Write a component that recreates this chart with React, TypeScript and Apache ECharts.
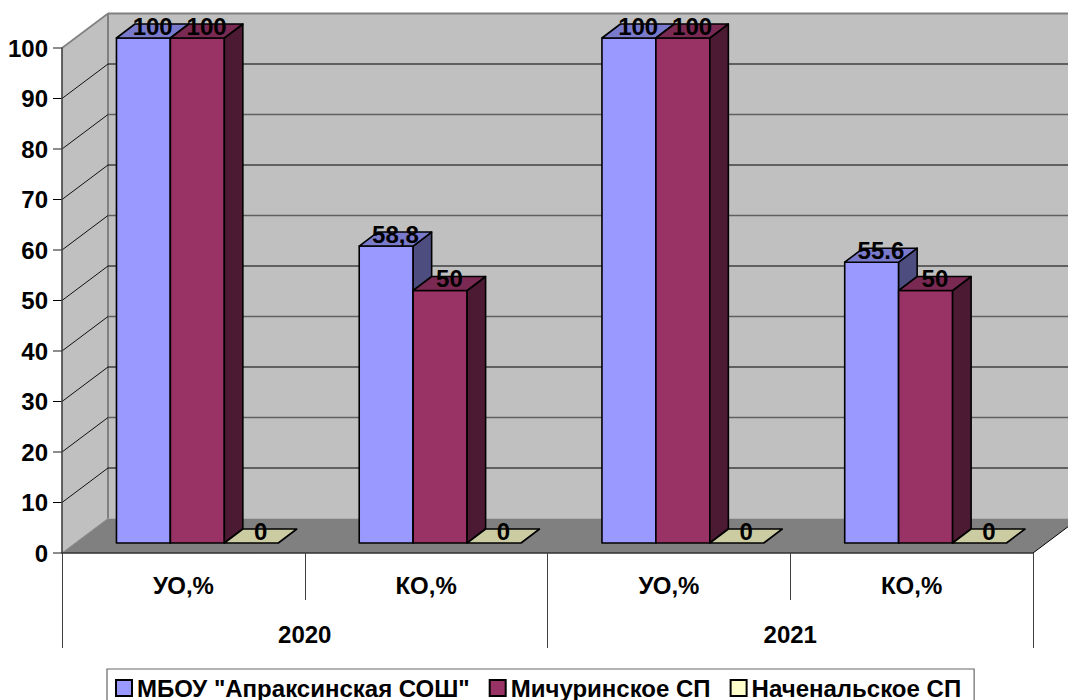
import React, { useEffect, useRef } from "react";
import * as echarts from "echarts";

const categories = ["УО,%", "КО,%", "УО,%", "КО,%"];
const years = ["2020", "2021"];
const seriesNames = ['МБОУ "Апраксинская СОШ"', "Мичуринское СП", "Наченальское СП"];
const school = [100, 58.8, 100, 55.6];
const michurinsk = [100, 50, 100, 50];
const primary = [0, 0, 0, 0];
const schoolLabels = ["100", "58,8", "100", "55.6"];
const michurinskLabels = ["100", "50", "100", "50"];
const primaryLabels = ["0", "0", "0", "0"];
const yTicks = [0, 10, 20, 30, 40, 50, 60, 70, 80, 90, 100];

const FONT = '"Liberation Sans", Arial, sans-serif';
const FONT_SIZE = 24;
const WALL_DX = 46;
const WALL_DY = -34.5;
const BAR_DX = 18.5;
const BAR_DY = -14;
const SHIFT_X = 14;
const SHIFT_Y = -10;

const palettes = [
  { front: "#9999FF", top: "#7A7ACC", side: "#4D4D80" },
  { front: "#993366", top: "#7A2952", side: "#4D1A33" },
  { front: "#FFFFCC", top: "#CCCCA3", side: "#808066" },
];

const wallRender = (_p: any, api: any) => {
  const tick = api.value(1);
  const catWidth = api.size([1, 0])[0];
  const [c0, fy] = api.coord([0, tick]);
  const [c3] = api.coord([3, tick]);
  const fx = c0 - catWidth / 2;
  const rx = c3 + catWidth / 2;
  const [, y100] = api.coord([0, 100]);
  const [, y0] = api.coord([0, 0]);
  const bx = fx + WALL_DX;
  const by = fy + WALL_DY;
  const even = tick % 20 === 0;
  const lineColor = even ? "#606060" : "#000000";
  const lineWidth = even ? 1.6 : 1;
  const children: any[] = [];
  if (tick === 0) {
    children.push(
      { type: "polygon", shape: { points: [[fx, y100], [bx, y100 + WALL_DY], [bx, y0 + WALL_DY], [fx, y0]] }, style: { fill: "#C0C0C0" } },
      { type: "rect", shape: { x: bx, y: y100 + WALL_DY, width: rx - fx, height: y0 - y100 }, style: { fill: "#C0C0C0" } },
      { type: "polygon", shape: { points: [[fx, y0], [bx, y0 + WALL_DY], [rx + WALL_DX, y0 + WALL_DY], [rx, y0]] }, style: { fill: "#808080" } },
      { type: "line", shape: { x1: bx, y1: y100 + WALL_DY, x2: bx, y2: y0 + WALL_DY }, style: { stroke: "#808080", lineWidth: 2 } },
      { type: "line", shape: { x1: fx, y1: y100, x2: bx, y2: y100 + WALL_DY }, style: { stroke: "#808080", lineWidth: 1.6 } },
      { type: "line", shape: { x1: fx, y1: y0, x2: bx, y2: y0 + WALL_DY }, style: { stroke: "#8A8A8A", lineWidth: 1 } },
      { type: "line", shape: { x1: rx, y1: y0, x2: rx + WALL_DX, y2: y0 + WALL_DY }, style: { stroke: "#000000", lineWidth: 1 } },
    );
  } else if (tick === 100) {
    children.push({ type: "line", shape: { x1: bx, y1: by, x2: rx + WALL_DX, y2: by }, style: { stroke: "#808080", lineWidth: 2 } });
  } else {
    children.push(
      { type: "line", shape: { x1: fx, y1: fy, x2: bx, y2: by }, style: { stroke: "#111111", lineWidth: 1 } },
      { type: "line", shape: { x1: bx, y1: by, x2: rx + WALL_DX, y2: by }, style: { stroke: lineColor, lineWidth } },
    );
  }
  children.push({ type: "line", shape: { x1: fx - 9, y1: fy, x2: fx, y2: fy }, style: { stroke: even ? "#707070" : "#000000", lineWidth: even ? 1.6 : 1 } });
  return { type: "group", children };
};

const barRender = (seriesIndex: number, labels: string[]) => (_p: any, api: any) => {
  const cat = api.value(0);
  const val = api.value(1);
  const pal = palettes[seriesIndex];
  const catWidth = api.size([1, 0])[0];
  const w = catWidth / 4.5;
  const [cx, yTop0] = api.coord([cat, val]);
  const [, yBase0] = api.coord([cat, 0]);
  const x0 = cx + SHIFT_X + (seriesIndex - 1.5) * w;
  const x1 = x0 + w;
  const yt = yTop0 + SHIFT_Y;
  const yb = yBase0 + SHIFT_Y;
  const stroke = { stroke: "#000000", lineWidth: 1.6, lineJoin: "round" };
  const children: any[] = [];
  if (val > 0) {
    children.push(
      { type: "rect", shape: { x: x0, y: yt, width: w, height: yb - yt }, style: { fill: pal.front, ...stroke } },
      { type: "polygon", shape: { points: [[x1, yt], [x1 + BAR_DX, yt + BAR_DY], [x1 + BAR_DX, yb + BAR_DY], [x1, yb]] }, style: { fill: pal.side, ...stroke } },
    );
  }
  children.push({ type: "polygon", shape: { points: [[x0, yt], [x0 + BAR_DX, yt + BAR_DY], [x1 + BAR_DX, yt + BAR_DY], [x1, yt]] }, style: { fill: pal.top, ...stroke } });
  children.push({
    type: "text",
    x: x0 + w / 2 + BAR_DX / 2,
    y: yt + BAR_DY / 2 - 5,
    style: { text: labels[cat], fill: "#000000", font: `bold ${FONT_SIZE}px ${FONT}`, align: "center", verticalAlign: "middle" },
  });
  return { type: "group", children };
};

const toData = (values: number[]) => values.map((v, i) => [i, v]);

export default function App() {
  const ref = useRef<HTMLDivElement>(null);
  useEffect(() => {
    document.body.style.margin = "0";
    const chart = echarts.init(ref.current!, null, { renderer: "svg" });
    const axisLabelBase = { fontFamily: FONT, fontWeight: "bold", fontSize: FONT_SIZE, color: "#000000" };
    chart.setOption({
      animation: false,
      backgroundColor: "#FFFFFF",
      grid: { left: 62, right: 35, top: 48, bottom: 147 },
      legend: {
        show: true,
        left: 107,
        top: 669,
        orient: "horizontal",
        data: seriesNames,
        icon: "rect",
        itemWidth: 16,
        itemHeight: 16,
        itemGap: 19,
        padding: [7, 13, 7, 8],
        borderColor: "#666666",
        borderWidth: 1.2,
        backgroundColor: "#FFFFFF",
        selectedMode: false,
        textStyle: { ...axisLabelBase },
      },
      xAxis: [
        {
          type: "category",
          data: categories,
          position: "bottom",
          z: 10,
          axisLine: { show: true, lineStyle: { color: "#303030", width: 1.6 } },
          axisTick: { show: true, length: 47, lineStyle: { color: "#404040", width: 1 } },
          axisLabel: { ...axisLabelBase, margin: 20, interval: 0 },
        },
        {
          type: "category",
          data: years,
          position: "bottom",
          z: 10,
          axisLine: { show: false },
          axisTick: { show: true, length: 95, lineStyle: { color: "#404040", width: 1 } },
          axisLabel: { ...axisLabelBase, margin: 69, interval: 0 },
        },
      ],
      yAxis: {
        type: "value",
        min: 0,
        max: 100,
        interval: 10,
        z: 10,
        axisLine: { show: true, lineStyle: { color: "#404040", width: 1.6 } },
        axisTick: { show: false },
        splitLine: { show: false },
        axisLabel: { ...axisLabelBase, margin: 14 },
      },
      series: [
        { type: "custom", name: "walls", silent: true, z: 1, renderItem: wallRender, data: yTicks.map((t) => [0, t]), encode: { x: 0, y: 1 } },
        { type: "custom", name: seriesNames[0], z: 2, renderItem: barRender(0, schoolLabels), data: toData(school), encode: { x: 0, y: 1 }, itemStyle: { color: palettes[0].front, borderColor: "#000000", borderWidth: 1.6 } },
        { type: "custom", name: seriesNames[1], z: 2, renderItem: barRender(1, michurinskLabels), data: toData(michurinsk), encode: { x: 0, y: 1 }, itemStyle: { color: palettes[1].front, borderColor: "#000000", borderWidth: 1.6 } },
        { type: "custom", name: seriesNames[2], z: 2, renderItem: barRender(2, primaryLabels), data: toData(primary), encode: { x: 0, y: 1 }, itemStyle: { color: palettes[2].front, borderColor: "#000000", borderWidth: 1.6 } },
      ],
    });
    return () => chart.dispose();
  }, []);
  return <div ref={ref} style={{ width: 1068, height: 700 }} />;
}
